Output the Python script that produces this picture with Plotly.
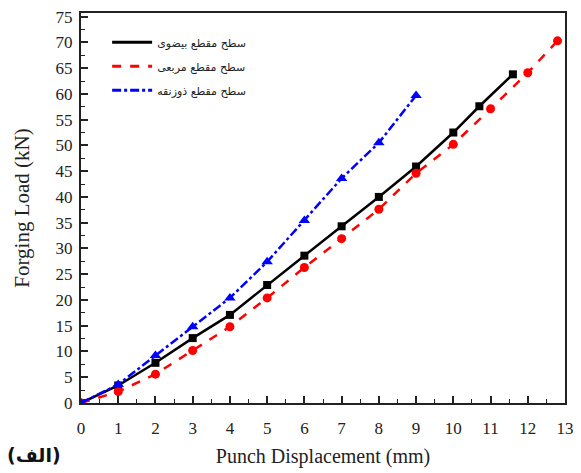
import plotly.graph_objects as go

# Elliptical cross-section (black, squares)
ell_x = [0, 1, 2, 3, 4, 5, 6, 7, 8, 9, 10, 10.7, 11.6]
ell_y = [0, 3.4, 7.8, 12.6, 17.1, 22.9, 28.6, 34.3, 40.0, 45.9, 52.5, 57.6, 63.8]

# Square cross-section (red, circles)
sq_x = [0, 1, 2, 3, 4, 5, 6, 7, 8, 9, 10, 11, 12, 12.8]
sq_y = [0, 2.2, 5.6, 10.2, 14.8, 20.4, 26.3, 31.9, 37.6, 44.6, 50.2, 57.1, 64.1, 70.3]

# Trapezoid cross-section (blue, triangles)
tr_x = [0, 1, 2, 3, 4, 5, 6, 7, 8, 9]
tr_y = [0, 3.6, 9.2, 14.8, 20.4, 27.4, 35.4, 43.6, 50.5, 59.7]

names = ["سطح مقطع بیضوی", "سطح مقطع مربعی", "سطح مقطع ذوزنقه"]
x_ticks = list(range(0, 14))
y_ticks = list(range(0, 80, 5))

fig = go.Figure()

series = [
    (ell_x, ell_y, "black", "solid", "square", 8),
    (sq_x, sq_y, "#ff0000", "dash", "circle", 9),
    (tr_x, tr_y, "#0000ff", "dashdot", "triangle-up", 10),
]

for (xs, ys, col, dash, sym, ms), nm in zip(series, names):
    fig.add_trace(go.Scatter(
        x=xs, y=ys, mode="lines+markers", showlegend=False,
        line=dict(color=col, width=2.5, dash=dash),
        marker=dict(color=col, symbol=sym, size=ms),
    ))
for i, ((xs, ys, col, dash, sym, ms), nm) in enumerate(zip(series, names)):
    fig.add_trace(go.Scatter(
        x=[None], y=[None], mode="lines", name=nm, legendgroup=f"g{i}",
        line=dict(color=col, width=3, dash=dash),
    ))

# page body has an 8px default margin, so the figure is sized to fit the window
fig.update_layout(
    width=573, height=465,
    margin=dict(l=73, r=16, t=5, b=70),
    paper_bgcolor="white", plot_bgcolor="white",
    font=dict(family="Liberation Serif", color="#222"),
    showlegend=True,
    legend=dict(
        x=0.054, y=0.962, xanchor="left", yanchor="top",
        bgcolor="rgba(0,0,0,0)",
        font=dict(family="DejaVu Sans", size=11, color="#222"),
        tracegroupgap=5, itemwidth=40,
    ),
    xaxis=dict(
        range=[0, 13], tickvals=x_ticks, ticktext=[str(v) for v in x_ticks],
        ticks="inside", ticklen=7, tickwidth=1.5, tickcolor="#222",
        minor=dict(dtick=0.5, ticks="inside", ticklen=4, tickcolor="#222", tickwidth=1.2),
        showline=True, linecolor="#222", linewidth=2, mirror=True,
        showgrid=False, zeroline=False, automargin=False,
        ticklabelstandoff=9, ticklabeloverflow="allow",
        tickfont=dict(size=17, family="Liberation Serif"),
        title=dict(text="Punch Displacement (mm)", font=dict(size=20, family="Liberation Serif"), standoff=12),
    ),
    yaxis=dict(
        range=[0, 75.7], tickvals=y_ticks, ticktext=[str(v) for v in y_ticks],
        ticks="inside", ticklen=7, tickwidth=1.5, tickcolor="#222",
        minor=dict(dtick=2.5, ticks="inside", ticklen=4, tickcolor="#222", tickwidth=1.2),
        showline=True, linecolor="#222", linewidth=2, mirror=True,
        showgrid=False, zeroline=False, automargin=False,
        ticklabelstandoff=3, ticklabeloverflow="allow",
        tickfont=dict(size=17, family="Liberation Serif"),
        title=dict(text="Forging Load (kN)", font=dict(size=21, family="Liberation Serif"), standoff=20),
    ),
    annotations=[dict(
        text="<b>(الف)</b>", xref="paper", yref="paper", x=-0.157, y=-0.133,
        xanchor="left", yanchor="middle", showarrow=False,
        font=dict(family="DejaVu Sans", size=19, color="#111"),
    )],
)

fig.write_html("out.html")
